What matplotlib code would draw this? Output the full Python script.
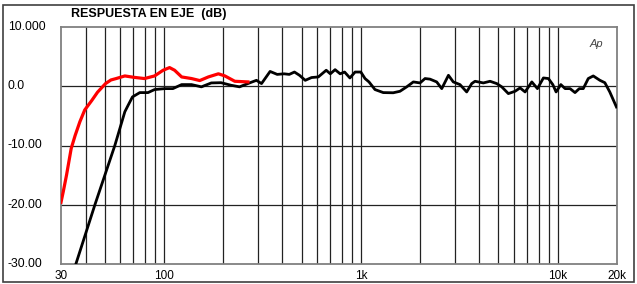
import matplotlib
matplotlib.use("Agg")
import matplotlib.pyplot as plt
from matplotlib.patches import Rectangle
from matplotlib.transforms import blended_transform_factory

plt.rcParams["font.family"] = ["Liberation Sans", "DejaVu Sans"]

# --- data ---
red_freq = [30, 30.8, 32, 33.8, 35.4, 37.4, 39.6, 43, 46, 50.5, 53.8, 57.2, 63.3,
            70.6, 79.6, 89.6, 99, 106.8, 113.3, 123, 138, 152, 168, 189, 204,
            229, 267]
red_db = [-19.6, -17.8, -15.0, -10.5, -8.3, -6.0, -4.0, -2.4, -1.0, 0.45, 1.06,
          1.3, 1.74, 1.5, 1.3, 1.74, 2.7, 3.15, 2.7, 1.57, 1.3, 0.96, 1.57, 2.1,
          1.74, 0.84, 0.73]

black_freq = [35.7, 44.6, 56.3, 63.3, 65.8, 69.2, 75.4, 83, 89.6, 101, 111, 123,
              138, 155, 174, 195, 219, 242, 274, 295, 313, 346, 376, 407, 433,
              460, 488, 522, 562, 608, 667, 700, 740, 785, 827, 880, 935, 1000,
              1050, 1100, 1180, 1300, 1460, 1580, 1710, 1848, 1998, 2118, 2245,
              2428, 2576, 2786, 2948, 3188, 3448, 3657, 3801, 4190, 4531, 4900,
              5195, 5613, 6070, 6438, 6827, 7386, 7888, 8457, 8966, 9440, 9810,
              10370, 10900, 11550, 12240, 12870, 13480, 14290, 15150, 16380,
              17350, 18380, 19870]
black_db = [-30.0, -20.0, -10.0, -4.3, -3.2, -1.8, -1.07, -1.07, -0.56, -0.4,
            -0.4, 0.28, 0.28, -0.1, 0.56, 0.6, 0.17, -0.1, 0.6, 1.0, 0.45, 2.5,
            2.0, 2.1, 2.0, 2.4, 1.85, 1.0, 1.47, 1.57, 2.7, 2.1, 2.8, 2.1, 2.4,
            1.4, 2.4, 2.4, 1.3, 0.73, -0.56, -1.07, -1.1, -0.85, -0.1, 0.73,
            0.56, 1.3, 1.2, 0.73, -0.4, 1.85, 0.73, 0.28, -0.96, 0.45, 0.84,
            0.56, 0.84, 0.45, -0.1, -1.24, -0.85, -0.28, -0.96, 0.73, -0.4, 1.4,
            1.3, 0.28, -0.96, 0.28, -0.4, -0.4, -1.07, -0.4, -0.4, 1.3, 1.74,
            1.0, 0.6, -0.96, -3.5]

y_ticks = [10, 0, -10, -20, -30]
y_labels = ["10.000", "0.0", "-10.00", "-20.00", "-30.00"]
x_ticks = [30, 100, 1000, 10000, 20000]
x_labels = ["30", "100", "1k", "10k", "20k"]
grid_freqs = [40, 50, 60, 70, 80, 90, 100, 200, 300, 400, 500, 600, 700, 800,
              900, 1000, 2000, 3000, 4000, 5000, 6000, 7000, 8000, 9000, 10000]

fig = plt.figure(figsize=(6.37, 2.84), dpi=100)
ax = fig.add_axes([61 / 637, 1 - 264 / 284, 556 / 637, 237 / 284])

ax.set_xscale("log")
ax.set_xlim(30, 20000)
ax.set_ylim(-30, 10)

for f in grid_freqs:
    ax.axvline(f, color="#222222", lw=0.9, zorder=1)
for v in [0, -10, -20]:
    ax.axhline(v, color="#222222", lw=0.9, zorder=1)

ax.plot(black_freq, black_db, color="black", lw=2.0, zorder=3,
        solid_joinstyle="round")
ax.plot(red_freq, red_db, color="#ff0000", lw=2.3, zorder=4,
        solid_joinstyle="round")

for s in ax.spines.values():
    s.set_color("#808080")
    s.set_linewidth(1.3)

ax.set_xticks(x_ticks)
ax.set_xticklabels(x_labels, fontsize=8.5)
ax.xaxis.set_minor_locator(matplotlib.ticker.NullLocator())
ax.set_yticks(y_ticks)
ax.set_yticklabels([])
ax.tick_params(length=0)
ax.tick_params(axis="x", pad=4)

trans = blended_transform_factory(fig.transFigure, ax.transData)
for v, lab in zip(y_ticks, y_labels):
    ax.text(8 / 637, v, lab, transform=trans, ha="left", va="center",
            fontsize=8.8)

fig.text(71 / 637, 1 - 14 / 284, "RESPUESTA EN EJE  (dB)", fontsize=9,
         fontweight="bold", ha="left", va="center")
ax.text(0.975, 0.93, "Ap", transform=ax.transAxes, fontsize=8,
        style="italic", color="#444444", ha="right", va="center")

fig.patches.append(Rectangle((3 / 637, 2 / 284), 631 / 637, 277 / 284,
                             transform=fig.transFigure, fill=False,
                             edgecolor="#404040", lw=1.2))

fig.savefig("out.png", dpi=100)
